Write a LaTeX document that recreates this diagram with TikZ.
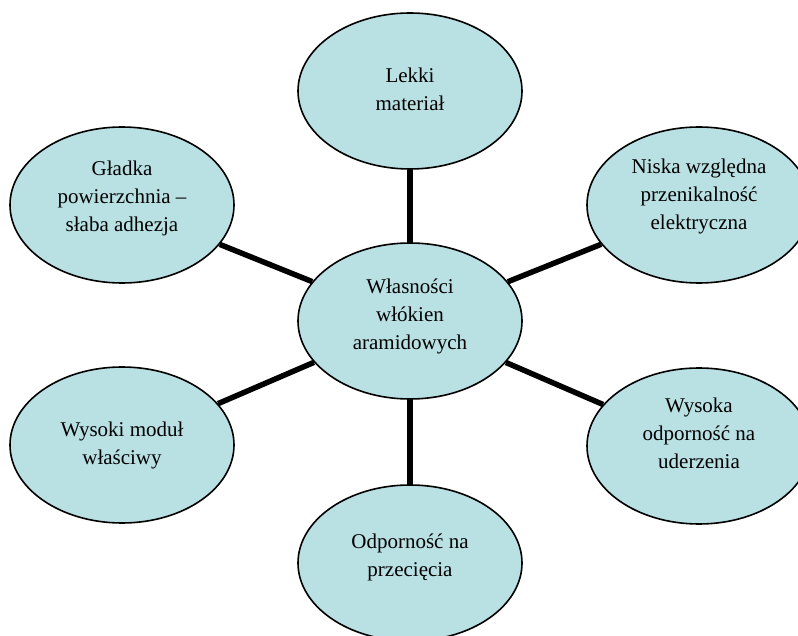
\documentclass[tikz,border=0pt]{standalone}
\usepackage{fontspec}
\setmainfont{Liberation Serif}
\usetikzlibrary{shapes.geometric}
\definecolor{aqfill}{HTML}{B9E0E3}

\begin{document}
\begin{tikzpicture}[x=1pt, y=-1pt,
    prop/.style={ellipse, draw=black, line width=1.6pt, fill=aqfill,
                 minimum width=224pt, minimum height=156pt, inner sep=0pt,
                 align=center, font=\fontsize{21}{28}\selectfont},
    lift/.style={text depth=#1},
    spoke/.style={draw=black, line width=5.5pt}]
    \useasboundingbox (0,0) rectangle (798,636);
    % centre and the six properties around it
    \node[prop, lift=13pt] (srodek) at (410,321) {Własności\\włókien\\aramidowych};
    \node[prop, lift=4pt]  (lekki)  at (410,91)  {Lekki\\materiał};
    \node[prop, lift=21pt] (niska)  at (699,205) {Niska względna\\przenikalność\\elektryczna};
    \node[prop, lift=17pt] (gladka) at (122,205) {Gładka\\powierzchnia –\\słaba adhezja};
    \node[prop]            (modul)  at (122,445) {Wysoki moduł\\właściwy};
    \node[prop, lift=26pt] (udar)   at (699,446) {Wysoka\\odporność na\\uderzenia};
    \node[prop, lift=15pt] (ciecie) at (410,563) {Odporność na\\przecięcia};
    \foreach \n in {lekki, niska, gladka, modul, udar, ciecie}
        \draw[spoke] (srodek) -- (\n);
\end{tikzpicture}
\end{document}
